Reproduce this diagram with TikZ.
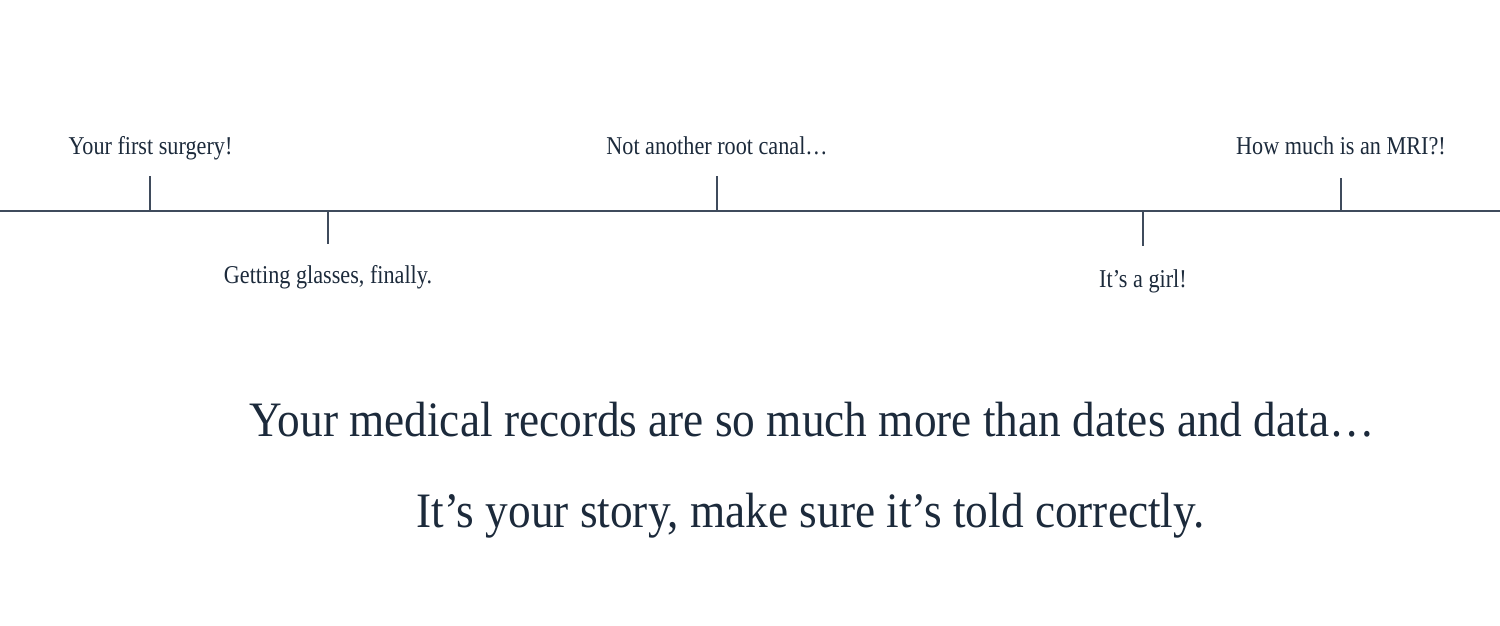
\documentclass[tikz,border=0pt]{standalone}
\usepackage{fontspec}
\setmainfont{Liberation Serif}
\newfontfamily\smallfnt[FakeStretch=0.865]{Liberation Serif}
\newfontfamily\bigfnt[FakeStretch=0.914]{Liberation Serif}
\definecolor{linecol}{HTML}{3F4B5C}
\definecolor{textcol}{HTML}{1C2A3B}
\tikzset{
  tl/.style={draw=linecol, line width=0.55pt},
  lbl/.style={anchor=base, inner sep=0pt, text=textcol, font=\smallfnt\fontsize{7.3pt}{9pt}\selectfont},
  big/.style={anchor=base, inner sep=0pt, text=textcol, font=\bigfnt\fontsize{14.1pt}{17pt}\selectfont}
}
\begin{document}
\begin{tikzpicture}
\useasboundingbox (0,0) rectangle (15,6.25);
\coordinate (L) at (0,4.14);
\coordinate (R) at (15,4.14);
\draw[tl] (L) -- (R);
% tick bases
\coordinate (b1) at (1.50,4.14);
\coordinate (b2) at (3.28,4.14);
\coordinate (b3) at (7.17,4.14);
\coordinate (b4) at (11.43,4.14);
\coordinate (b5) at (13.41,4.14);
\coordinate (e1) at (1.50,4.49);
\coordinate (e2) at (3.28,3.81);
\coordinate (e3) at (7.17,4.49);
\coordinate (e4) at (11.43,3.79);
\coordinate (e5) at (13.41,4.47);
\foreach \i in {1,...,5} \draw[tl] (b\i) -- (e\i);
% labels
\node[lbl] (t1) at (1.505,4.71) {Your first surgery!};
\node[lbl] (t2) at (3.28,3.42) {Getting glasses, finally.};
\node[lbl] (t3) at (7.17,4.71) {Not another root canal…};
\node[lbl] (t4) at (11.43,3.38) {It’s a girl!};
\node[lbl] (t5) at (13.41,4.71) {How much is an MRI?!};
% main text
\node[big] (m1) at (8.12,1.89) {Your medical records are so much more than dates and data…};
\node[big] (m2) at (8.105,0.98) {It’s your story, make sure it’s told correctly.};
\end{tikzpicture}
\end{document}
